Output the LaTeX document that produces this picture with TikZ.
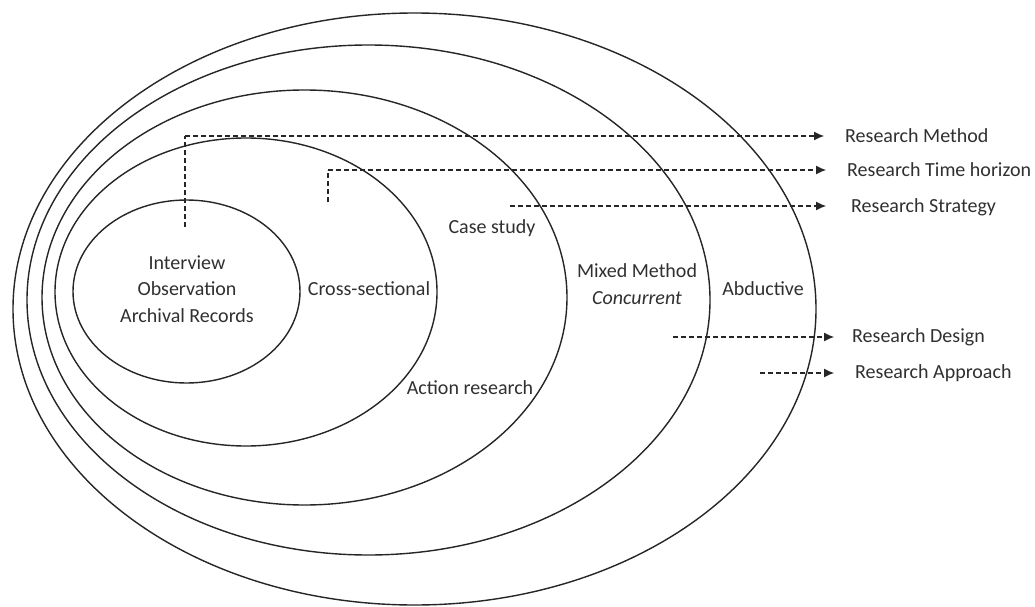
\documentclass[tikz,border=0pt]{standalone}
\usepackage{fontspec}
\setmainfont{Carlito}
\usetikzlibrary{arrows.meta}
\definecolor{ink}{HTML}{262626}
\definecolor{txt}{HTML}{303030}
\begin{document}
\begin{tikzpicture}[x=1pt,y=-1pt,
  ring/.style={draw=ink,line width=1.4pt},
  lbl/.style={inner sep=0pt,text=txt,font=\fontsize{20}{26.5}\selectfont,align=center},
  side/.style={lbl,anchor=west},
  guide/.style={draw=ink,line width=1.1pt,dash pattern=on 5pt off 3pt},
  pointer/.style={guide,-{Latex[length=10pt,width=9pt]}}]
\useasboundingbox (0,0) rectangle (1035,607);
\fill[white] (0,0) rectangle (1035,607);

% nested layers, outermost first
\draw[ring] (414.5,309) ellipse [x radius=401.5pt, y radius=296pt];
\draw[ring] (368.5,300) ellipse [x radius=341.5pt, y radius=255pt];
\draw[ring] (304.5,297.5) ellipse [x radius=262.5pt, y radius=207.5pt];
\draw[ring] (246,292) ellipse [x radius=191pt, y radius=154pt];
\draw[ring] (186.5,291.5) ellipse [x radius=113.5pt, y radius=91.5pt];

% texts inside the layers
\node[lbl] (core) at (187,289) {Interview\\Observation\\Archival Records};
\node[lbl] (cross) at (369,289) {Cross-sectional};
\node[lbl] (case) at (492,228) {Case study};
\node[lbl] (action) at (470,388) {Action research};
\node[lbl] (mixed) at (637,284) {Mixed Method\\\itshape Concurrent};
\node[lbl] (abd) at (763,289) {Abductive};

% layer names on the right
\node[side] (method) at (845,136) {Research Method};
\node[side] (time) at (847,170) {Research Time horizon};
\node[side] (strategy) at (851,207) {Research Strategy};
\node[side] (design) at (852,337) {Research Design};
\node[side] (approach) at (855,373) {Research Approach};

% start points of the pointers
\coordinate (mS) at (185,227);
\coordinate (mK) at (185,136);
\coordinate (tS) at (328,202);
\coordinate (tK) at (328,170);
\coordinate (sS) at (510,206);
\coordinate (dS) at (673,337);
\coordinate (aS) at (760,373);

\draw[guide] (mS) -- (mK);
\draw[pointer,shorten >=21pt] (mK) -- (mK -| method.west);
\draw[guide] (tS) -- (tK);
\draw[pointer,shorten >=21pt] (tK) -- (tK -| time.west);
\draw[pointer,shorten >=25pt] (sS) -- (sS -| strategy.west);
\draw[pointer,shorten >=18pt] (dS) -- (dS -| design.west);
\draw[pointer,shorten >=21pt] (aS) -- (aS -| approach.west);
\end{tikzpicture}
\end{document}
